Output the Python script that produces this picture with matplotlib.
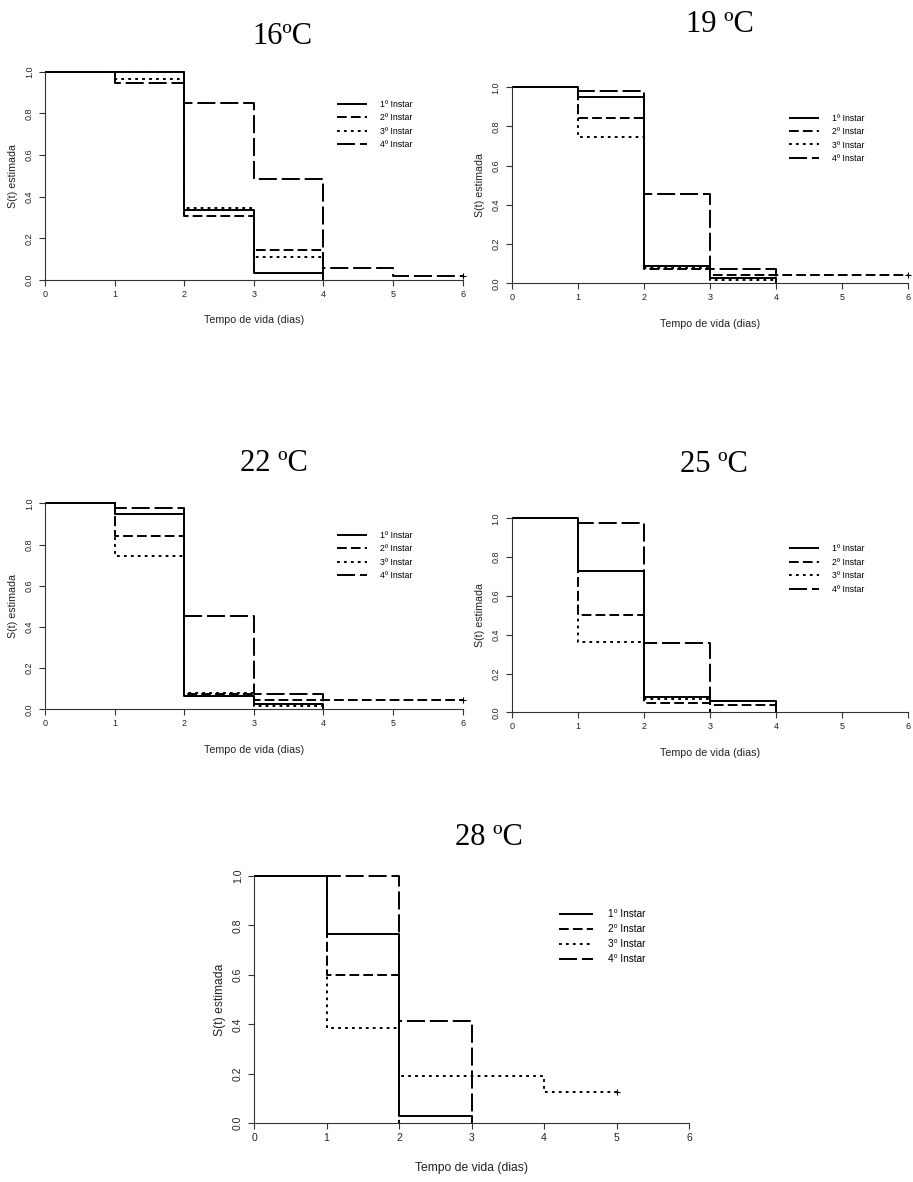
import matplotlib
matplotlib.use('Agg')
import matplotlib.pyplot as plt

plt.rcParams['font.family'] = ['Liberation Sans', 'DejaVu Sans']
plt.rcParams['lines.scale_dashes'] = False

# Kaplan-Meier estimates: step times and S(t) per instar
# (last value repeated at the end time = censored curve, drawn with '+')
titles = ['16ºC', '19 ºC', '22 ºC', '25 ºC', '28 ºC']
instars = ['1º Instar', '2º Instar', '3º Instar', '4º Instar']
instars28 = ['1⁰ Instar', '2⁰ Instar', '3⁰ Instar', '4⁰ Instar']

t16 = [[0, 2, 3, 4], [0, 2, 3, 4], [0, 1, 2, 3, 4], [0, 1, 2, 3, 4, 5, 6]]
s16 = [[1.0, 0.338, 0.035, 0.0],
       [1.0, 0.309, 0.144, 0.0],
       [1.0, 0.963, 0.344, 0.109, 0.0],
       [1.0, 0.944, 0.851, 0.483, 0.059, 0.019, 0.019]]
c16 = [False, False, False, True]

t19 = [[0, 1, 2, 3, 4], [0, 1, 2, 3, 6], [0, 1, 2, 3, 4], [0, 1, 2, 3, 4]]
s19 = [[1.0, 0.949, 0.088, 0.029, 0.0],
       [1.0, 0.845, 0.073, 0.043, 0.043],
       [1.0, 0.748, 0.078, 0.017, 0.0],
       [1.0, 0.983, 0.456, 0.075, 0.0]]
c19 = [False, True, False, False]

t22 = [[0, 1, 2, 3, 4], [0, 1, 2, 3, 6], [0, 1, 2, 3, 4], [0, 1, 2, 3, 4]]
s22 = [[1.0, 0.948, 0.066, 0.026, 0.0],
       [1.0, 0.843, 0.072, 0.045, 0.045],
       [1.0, 0.746, 0.078, 0.016, 0.0],
       [1.0, 0.979, 0.455, 0.073, 0.0]]
c22 = [False, True, False, False]

t25 = [[0, 1, 2, 3, 4], [0, 1, 2, 3, 4], [0, 1, 2, 3], [0, 1, 2, 3]]
s25 = [[1.0, 0.73, 0.077, 0.058, 0.0],
       [1.0, 0.50, 0.050, 0.036, 0.0],
       [1.0, 0.361, 0.067, 0.0],
       [1.0, 0.974, 0.356, 0.0]]
c25 = [False, False, False, False]

t28 = [[0, 1, 2, 3], [0, 1, 2], [0, 1, 2, 4, 5], [0, 2, 3]]
s28 = [[1.0, 0.765, 0.031, 0.0],
       [1.0, 0.60, 0.0],
       [1.0, 0.385, 0.191, 0.125, 0.125],
       [1.0, 0.412, 0.0]]
c28 = [False, False, True, False]

xticks = [0, 1, 2, 3, 4, 5, 6]
yticks = [0.0, 0.2, 0.4, 0.6, 0.8, 1.0]

styles = [(0, ()), (0, (7, 3)), (0, (2, 3)), (0, (13, 3.5))]

fig = plt.figure(figsize=(9.13, 11.82), dpi=100)
W, H = 913, 1182


def px_axes(x0, x1, ytop, ybot):
    return fig.add_axes([x0 / W, 1 - ybot / H, (x1 - x0) / W, (ybot - ytop) / H])


panels = [
    # axes box in pixels, title pos, times, surv, censored, labels, sizes
    (px_axes(45, 462.7, 71.7, 280), (282, 44), t16, s16, c16, instars, 6.5, 6.3, 0.5, 12),
    (px_axes(511.7, 908.3, 87.3, 283.3), (720, 32), t19, s19, c19, instars, 6.5, 6.3, 0.5, 12),
    (px_axes(45, 462.7, 503.3, 709.3), (274, 471), t22, s22, c22, instars, 6.5, 6.3, 0.5, 12),
    (px_axes(511.7, 908.3, 518.3, 712.3), (714, 472), t25, s25, c25, instars, 6.5, 6.3, 0.5, 12),
    (px_axes(254, 689, 876, 1123.3), (489, 845), t28, s28, c28, instars28, 7.5, 7.2, 0.5, 14),
]

for i, (ax, tpos, tt, ss, cc, labs, fs, lfs, lsp, xlp) in enumerate(panels):
    handles = []
    for k in range(4):
        ln, = ax.step(tt[k], ss[k], where='post', color='black', lw=1.4,
                      linestyle=styles[k], clip_on=False, label=labs[k])
        handles.append(ln)
        if cc[k]:
            ax.plot(tt[k][-1], ss[k][-1], marker='+', color='black',
                    markersize=5, mew=0.8, clip_on=False)
    ax.set_xlim(0, 6)
    ax.set_ylim(0, 1)
    ax.set_xticks(xticks)
    ax.set_yticks(yticks)
    ax.set_xticklabels([str(v) for v in xticks])
    ax.set_yticklabels(['%.1f' % v for v in yticks])
    for side in ['top', 'right']:
        ax.spines[side].set_visible(False)
    for side in ['left', 'bottom']:
        ax.spines[side].set_linewidth(0.8)
        ax.spines[side].set_color('#333333')
    ax.tick_params(direction='out', length=4, width=0.8, color='#333333',
                   labelsize=fs, labelcolor='#222222', pad=3)
    ax.tick_params(axis='y', labelrotation=90, pad=4)
    for lab in ax.get_yticklabels():
        lab.set_va('center')
    ax.set_xlabel('Tempo de vida (dias)', fontsize=fs + 1.2, labelpad=xlp,
                  color='#222222')
    ax.set_ylabel('S(t) estimada', fontsize=fs + 1.2, labelpad=5,
                  color='#222222')
    ax.legend(handles=handles, loc='upper left', bbox_to_anchor=(0.7, 0.865),
              frameon=False, fontsize=lfs, handlelength=3.4,
              handletextpad=1.5, labelspacing=lsp, borderpad=0,
              borderaxespad=0)
    fig.text(tpos[0] / W, 1 - tpos[1] / H, titles[i], ha='center',
             va='baseline', fontsize=22, family='Liberation Serif')

fig.savefig('out.png', dpi=100, facecolor='white')
